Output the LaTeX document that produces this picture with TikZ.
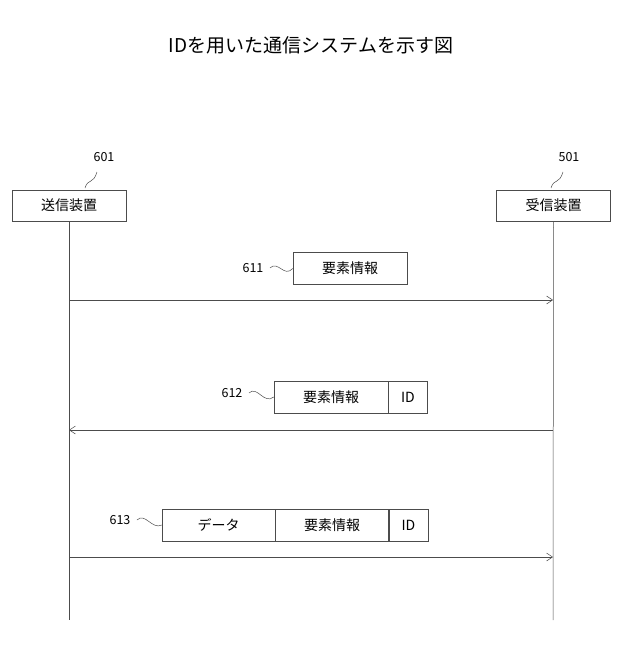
\documentclass[tikz,border=0pt]{standalone}
\usepackage{fontspec}
\setmainfont{Noto Sans CJK JP}
\usetikzlibrary{arrows.meta}
\begin{document}
\begin{tikzpicture}[x=1pt,y=-1pt,
  dev/.style={draw=black!70,line width=0.5pt,minimum width=114pt,minimum height=31pt,inner sep=0pt,font=\fontsize{14}{16}\selectfont},
  cell/.style={draw=black!70,line width=0.5pt,minimum height=32pt,inner sep=0pt,font=\fontsize{14}{16}\selectfont},
  lab/.style={font=\fontsize{12.5}{14}\selectfont},
  life/.style={draw=black!70,line width=0.5pt},
  msg/.style={draw=black!70,line width=0.5pt,-{Straight Barb[length=6pt,width=8pt]}},
  lead/.style={draw=black!70,line width=0.5pt}]
\useasboundingbox (0,0) rectangle (622,661);
\node[font=\fontsize{19}{22}\selectfont] (title) at (311,45) {IDを用いた通信システムを示す図};
\node[dev] (tx) at (69,205.5) {送信装置};
\node[dev] (rx) at (553.5,205.5) {受信装置};
\node[lab] (l601) at (104,157) {601};
\node[lab] (l501) at (569,157) {501};
\draw[lead] (85,188) .. controls (88,178) and (93,185) .. (97,172);
\draw[lead] (551,188) .. controls (554,178) and (559,185) .. (563,172);
\coordinate (txb) at (69,620);
\coordinate (rxb) at (553,620);
\draw[life] (tx.south) -- (txb);
\draw[life] (rx.south) -- (rxb);
% 611
\node[cell,minimum width=114pt] (b611) at (350,268.5) {要素情報};
\node[lab] (l611) at (253,268) {611};
\draw[lead] (270,268) .. controls (278,260) and (284,278) .. (b611.west);
\coordinate (a1s) at (69,300); \coordinate (a1e) at (553,300);
\draw[msg] (a1s) -- (a1e);
% 612
\node[cell,minimum width=114pt] (b612a) at (331,397) {要素情報};
\node[cell,minimum width=39pt,anchor=west] (b612b) at (b612a.east) {ID};
\node[lab] (l612) at (232,393) {612};
\draw[lead] (249,393) .. controls (257,385) and (264,405) .. (b612a.west);
\coordinate (a2s) at (553,430); \coordinate (a2e) at (69,430);
\draw[msg] (a2s) -- (a2e);
% 613
\node[cell,minimum width=113pt] (b613a) at (218.5,525) {データ};
\node[cell,minimum width=113pt,anchor=west] (b613b) at (b613a.east) {要素情報};
\node[cell,minimum width=39pt,anchor=west] (b613c) at (b613b.east) {ID};
\node[lab] (l613) at (120,520) {613};
\draw[lead] (137,520) .. controls (145,512) and (152,530) .. (b613a.west);
\coordinate (a3s) at (69,557); \coordinate (a3e) at (553,557);
\draw[msg] (a3s) -- (a3e);
\end{tikzpicture}
\end{document}
